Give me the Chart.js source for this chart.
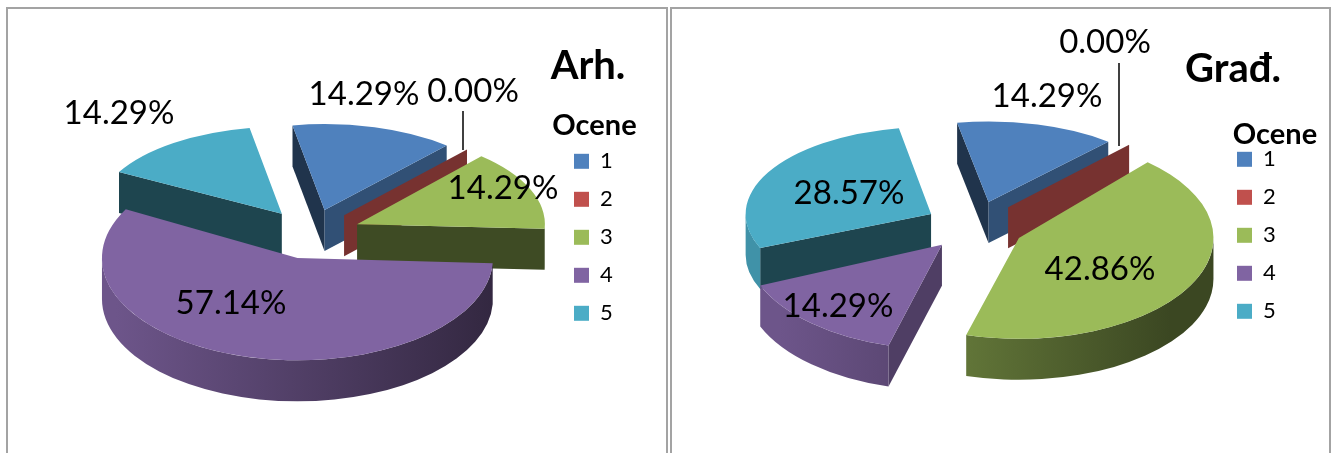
<!DOCTYPE html>
<html>
<head>
<meta charset="utf-8">
<style>
  body { margin: 0; background: #fff; width: 1335px; height: 453px; overflow: hidden; position: relative; }
  .panel { position: absolute; top: 7px; height: 460px; border: 2px solid #a3a3a3; box-sizing: border-box; }
  canvas { position: absolute; top: 0; }
</style>
<script src="https://cdn.jsdelivr.net/npm/chart.js@4"></script>
</head>
<body>
<div class="panel" style="left:6px;width:662px"></div>
<div class="panel" style="left:670px;width:661px"></div>
<canvas id="arhChart" width="669" height="453" style="left:0;width:669px;height:453px"></canvas>
<canvas id="gradChart" width="666" height="453" style="left:669px;width:666px;height:453px"></canvas>
<script>
const categories = ['1', '2', '3', '4', '5'];
const arhValues = [14.29, 0, 14.29, 57.14, 14.29];
const gradValues = [14.29, 0, 42.86, 14.29, 28.57];
const sliceColors = ['#4F81BD', '#C0504D', '#9BBB59', '#8064A2', '#4BACC6'];

const DEPTH = 41;
const EXPLODE = 50;
const FONT = 'Lato, Carlito, "Open Sans", sans-serif';

function shade(hex, f) {
  const n = parseInt(hex.slice(1), 16);
  const c = [n >> 16, (n >> 8) & 255, n & 255].map(v => Math.round(v * f));
  return `rgb(${c[0]},${c[1]},${c[2]})`;
}

// fakes the tilted 3D pie: every arc is squashed on its own, walls are added under it
const pie3d = {
  id: 'pie3d',
  afterLayout(chart, args, opts) {
    const legend = chart.legend;
    legend.left = opts.legendBox.x;
    legend.right = legend.left + opts.legendBox.w;
    legend.width = opts.legendBox.w;
    legend.top = opts.legendBox.y;
    legend.bottom = legend.top + 300;
    // the title sticks out of the box, so skip the clipping draw() does
    legend.draw = () => legend._draw();
    const title = chart.titleBlock;
    title.left = opts.titleBox.x - 100;
    title.right = opts.titleBox.x + 100;
    title.width = 200;
    title.top = opts.titleBox.y;
    title.bottom = title.top + 50;
  },
  beforeDatasetDraw(chart, args, opts) {
    const ctx = chart.ctx;
    const slices = args.meta.data.map((el, i) => {
      const p = el.getProps(['x', 'y', 'startAngle', 'endAngle', 'outerRadius'], true);
      const mid = (p.startAngle + p.endAngle) / 2;
      const back = -Math.sin(mid); // 1 = far side of the pie, -1 = near side
      return {
        el, p, i,
        color: sliceColors[i],
        sx: 1 - opts.shrinkX * back,
        ky: 0.495 - opts.shrinkY * back,
        ax: opts.center.x + Math.cos(mid) * EXPLODE,
        ay: opts.center.y + Math.sin(mid) * EXPLODE * 0.5
      };
    }).sort((a, b) => a.ay - b.ay);

    slices.forEach(s => {
      const rx = s.p.outerRadius * s.sx;
      const ry = s.p.outerRadius * s.ky;
      const face = (a, normal) => {
        if (Math.sin(normal) <= 0) return;
        const px = s.ax + rx * Math.cos(a);
        const py = s.ay + ry * Math.sin(a);
        ctx.fillStyle = shade(s.color, Math.cos(normal) > 0.5 ? 0.62 : 0.4);
        ctx.beginPath();
        ctx.moveTo(s.ax, s.ay);
        ctx.lineTo(px, py);
        ctx.lineTo(px, py + DEPTH);
        ctx.lineTo(s.ax, s.ay + DEPTH);
        ctx.closePath();
        ctx.fill();
      };
      face(s.p.startAngle, s.p.startAngle - Math.PI / 2);
      face(s.p.endAngle, s.p.endAngle + Math.PI / 2);

      const lo = Math.max(s.p.startAngle, 0);
      const hi = Math.min(s.p.endAngle, Math.PI);
      if (hi > lo) {
        const g = ctx.createLinearGradient(opts.center.x - 195, 0, opts.center.x + 195, 0);
        g.addColorStop(0, shade(s.color, 0.85));
        g.addColorStop(1, shade(s.color, 0.38));
        ctx.fillStyle = g;
        ctx.beginPath();
        ctx.ellipse(s.ax, s.ay, rx, ry, 0, lo, hi);
        ctx.ellipse(s.ax, s.ay + DEPTH, rx, ry, 0, hi, lo, true);
        ctx.closePath();
        ctx.fill();
      }

      if (s.p.endAngle > s.p.startAngle) {
        ctx.save();
        ctx.translate(s.ax, s.ay);
        ctx.scale(s.sx, s.ky);
        ctx.translate(-s.p.x, -s.p.y);
        s.el.draw(ctx);
        ctx.restore();
      }
    });
    return false;
  },
  afterDraw(chart, args, opts) {
    const ctx = chart.ctx;
    const values = chart.data.datasets[0].data;
    ctx.save();
    ctx.strokeStyle = '#000';
    ctx.lineWidth = 1.5;
    ctx.beginPath();
    ctx.moveTo(opts.leader.x, opts.leader.y0);
    ctx.lineTo(opts.leader.x, opts.leader.y1);
    ctx.stroke();
    ctx.fillStyle = '#000';
    ctx.font = '33px ' + FONT;
    ctx.textAlign = 'center';
    ctx.textBaseline = 'middle';
    values.forEach((v, i) => {
      ctx.fillText(v.toFixed(2) + '%', opts.labelAt[i][0], opts.labelAt[i][1]);
    });
    ctx.restore();
  }
};

function makePie(id, name, values, layout) {
  return new Chart(document.getElementById(id), {
    type: 'pie',
    data: {
      labels: categories,
      datasets: [{
        data: values,
        backgroundColor: sliceColors,
        borderWidth: 0
      }]
    },
    options: {
      responsive: false,
      animation: false,
      rotation: -10,
      radius: 190,
      plugins: {
        tooltip: { enabled: false },
        title: {
          display: true,
          text: name,
          align: 'center',
          color: '#000',
          padding: 0,
          font: { family: FONT, size: 40, weight: 'bold', lineHeight: 1.2 }
        },
        legend: {
          position: 'right',
          align: 'start',
          title: {
            display: true,
            text: 'Ocene',
            position: 'center',
            color: '#000',
            padding: { top: 0, bottom: layout.titleGap },
            font: { family: FONT, size: 29, weight: 'bold', lineHeight: 0.7 }
          },
          labels: {
            boxWidth: 15,
            boxHeight: 15,
            padding: 16,
            color: '#000',
            font: { family: FONT, size: 22 }
          }
        },
        pie3d: layout
      }
    },
    plugins: [pie3d]
  });
}

makePie('arhChart', 'Arh.', arhValues, {
  center: { x: 311, y: 234 },
  shrinkX: 0.03,
  shrinkY: 0.045,
  legendBox: { x: 558, y: 111, w: 73 },
  titleBox: { x: 588, y: 42 },
  titleGap: 3,
  leader: { x: 463, y0: 111, y1: 150 },
  labelAt: [[364, 94], [473, 91], [503, 188], [231, 303], [119, 113]]
});

makePie('gradChart', 'Građ.', gradValues, {
  center: { x: 306, y: 226 },
  shrinkX: 0.05,
  shrinkY: 0.075,
  legendBox: { x: 552, y: 120, w: 108 },
  titleBox: { x: 564, y: 45 },
  titleGap: -8,
  leader: { x: 450, y0: 63, y1: 146 },
  labelAt: [[378, 96], [436, 42], [431, 269], [169, 306], [180, 193]]
});
</script>
</body>
</html>
